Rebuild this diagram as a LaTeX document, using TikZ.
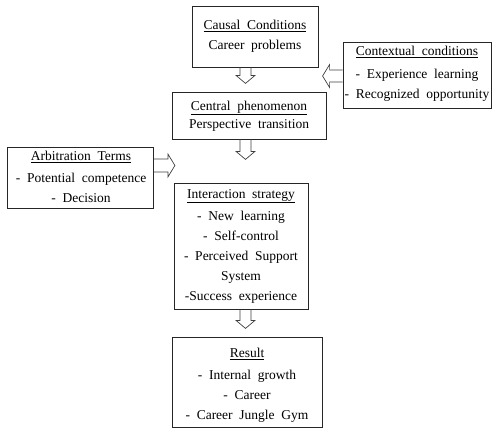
\documentclass[tikz,border=0pt]{standalone}
\usepackage{fontspec}
\setmainfont{Liberation Serif}
\usetikzlibrary{calc}
\tikzset{
  box/.style={draw=black!85, line width=0.8pt, rectangle, inner sep=0pt},
  txt/.style={align=center, inner sep=0pt, font=\fontsize{13.5}{20}\selectfont},
  arrowline/.style={draw=black!75, line width=0.7pt, line join=miter},
  pics/barrow/.style n args={4}{code={
    \draw[arrowline] (-#2,0) -- (-#2,#1-#4) -- (-#3,#1-#4) -- (0,#1) -- (#3,#1-#4) -- (#2,#1-#4) -- (#2,0);
  }}
}
\begin{document}
\begin{tikzpicture}[x=1pt,y=-1pt]
\useasboundingbox[fill=white] (0,0) rectangle (492,428);
% boxes
\node[box, minimum width=126pt, minimum height=61pt] (cc) at (255,36.5) {};
\node[box, minimum width=148pt, minimum height=66pt] (ctx) at (417,75) {};
\node[box, minimum width=154pt, minimum height=47pt] (cp) at (249,115.5) {};
\node[box, minimum width=146pt, minimum height=61pt] (at) at (80.5,177.5) {};
\node[box, minimum width=134pt, minimum height=126pt] (is) at (241,246) {};
\node[box, minimum width=150pt, minimum height=90pt] (rs) at (247,382) {};
% texts
\node[txt] (cct) at (cc.center) {\underline{Causal\ \ Conditions}\\Career\ \ problems};
\node[txt] (ctxt) at (417,74) {\underline{Contextual\ \ conditions}\\[2.5pt]-\ \ Experience\ \ learning\\-\ \ Recognized\ \ opportunity};
\node[txt, font=\fontsize{13.5}{18}\selectfont] (cpt) at (249,116) {\underline{Central\ \ phenomenon}\\Perspective\ \ transition};
\node[txt] (att) at (81,177) {\underline{Arbitration\ \ Terms}\\[2pt]-\ \ Potential\ \ competence\\-\ \ Decision};
\node[txt] (ist) at (241,246.5) {\underline{Interaction\ \ strategy}\\[2.5pt]-\ \ New\ \ learning\\-\ \ Self-control\\-\ \ Perceived\ \ Support\\System\\-Success\ \ experience};
\node[txt] (rst) at (247,385.5) {\underline{Result}\\[2pt]-\ \ Internal\ \ growth\\-\ \ Career\\-\ \ Career\ \ Jungle\ \ Gym};
% arrows
\coordinate (axis) at (245.5,0);
\coordinate (ctxy) at (0,76);
\coordinate (aty) at (0,165.5);
\pic (a1) at (cc.south -| axis) {barrow={16}{5.5}{9.5}{8}};
\pic (a2) at (cp.south -| axis) {barrow={20}{5.5}{9.5}{8}};
\pic (a3) at (is.south -| axis) {barrow={19}{5.5}{9.5}{8}};
\pic[rotate=-90] (a4) at (ctx.west |- ctxy) {barrow={20}{6}{11.5}{7}};
\pic[rotate=90] (a5) at (at.east |- aty) {barrow={21}{6.5}{11.5}{7}};
\end{tikzpicture}
\end{document}
